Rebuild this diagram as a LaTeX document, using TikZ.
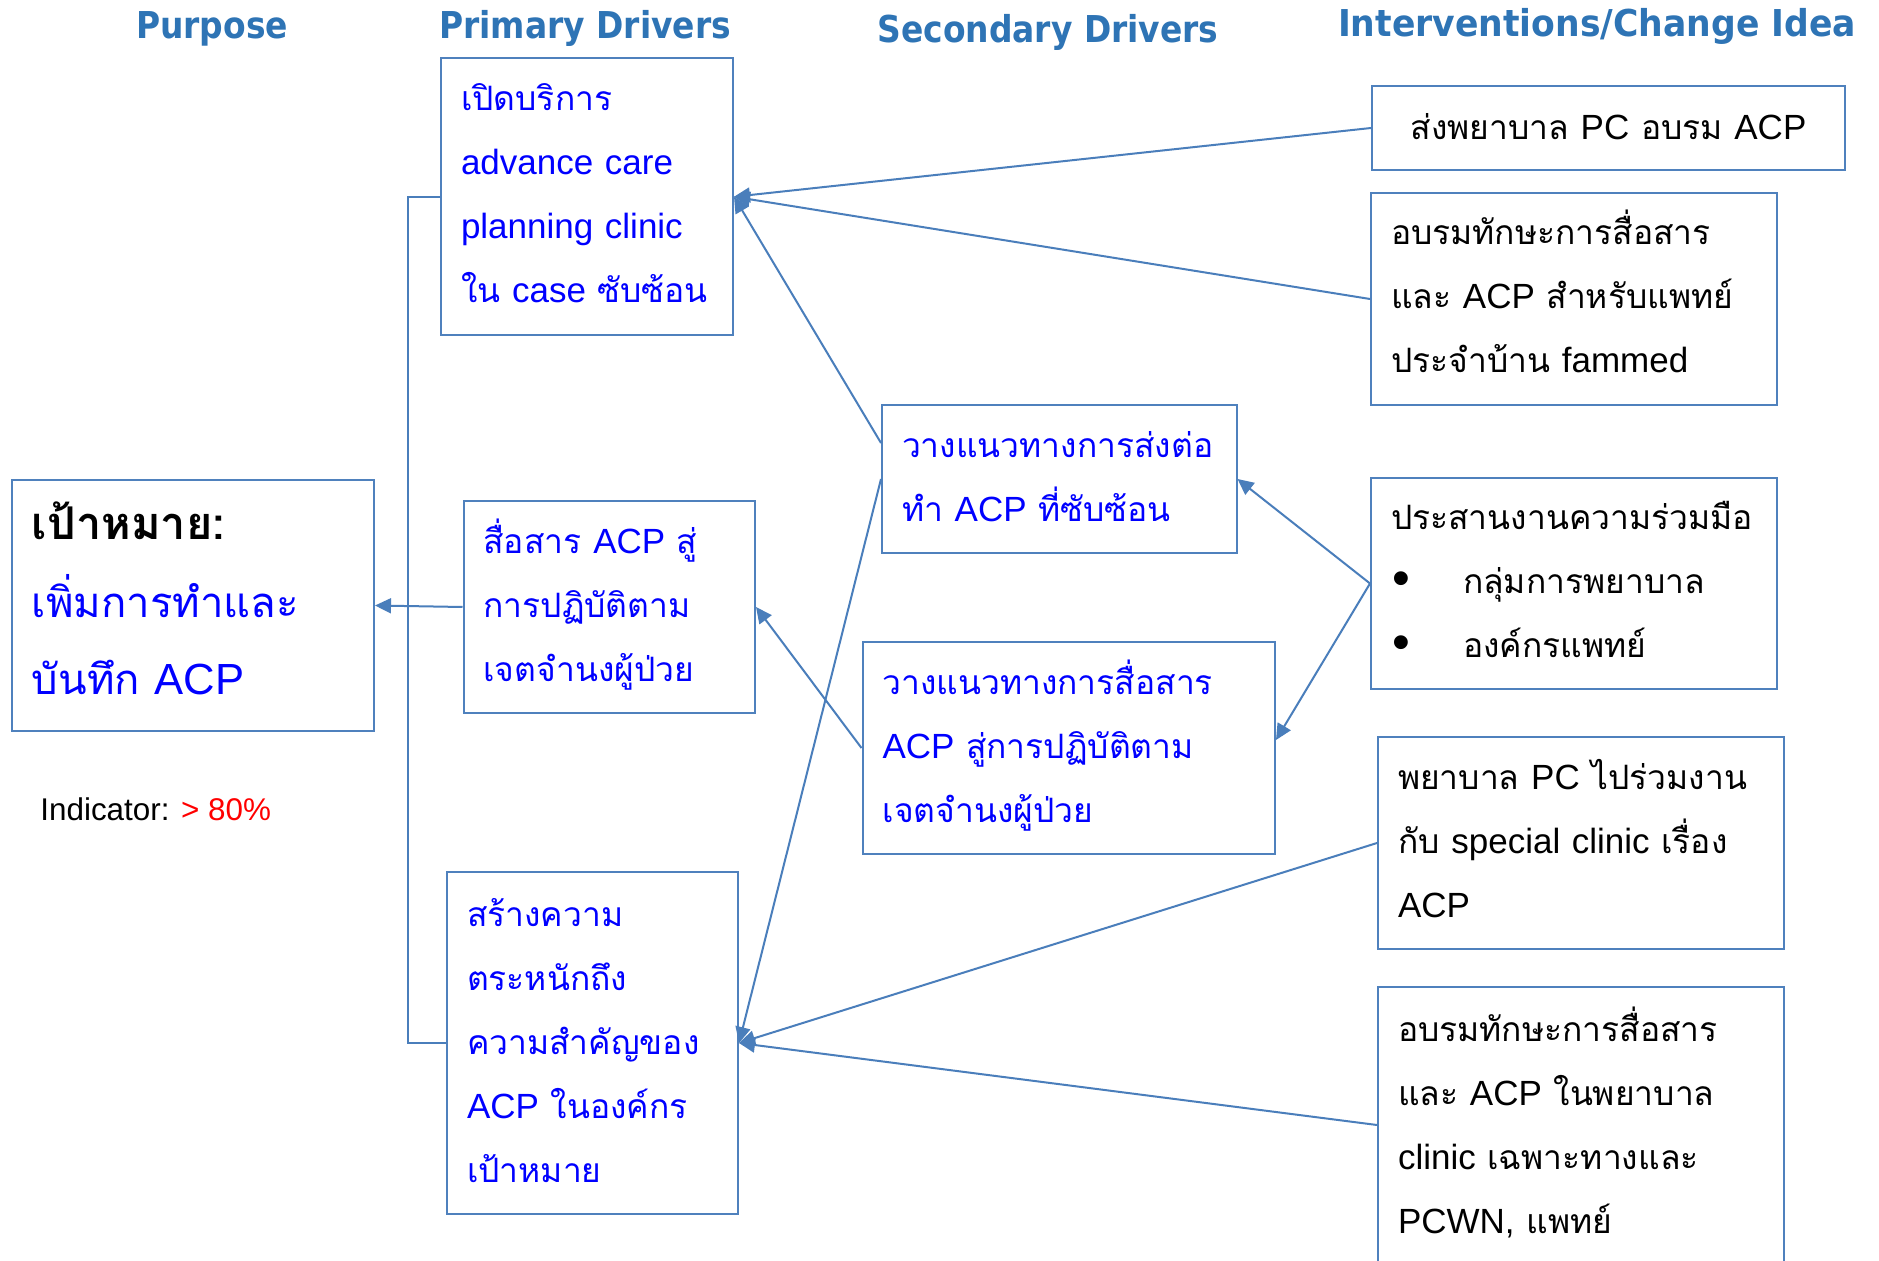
\documentclass[tikz,border=0pt]{standalone}
\usepackage{fontspec}
\setmainfont{Liberation Sans}
\newfontfamily\thaifont[Script=Thai,Scale=0.96]{Loma}
\newfontfamily\hdrfont[FakeStretch=0.89]{DejaVu Sans}
\newfontfamily\hdrfontw[FakeStretch=0.935]{DejaVu Sans}
\usetikzlibrary{arrows.meta}
\newcommand{\tht}[1]{{\thaifont #1}}
\newcommand{\bul}{\makebox[36pt][l]{\hspace{0.5pt}\raisebox{-0.8pt}{\scalebox{1.45}{\textbullet}}}}
\definecolor{hdrblue}{HTML}{2E74B5}
\definecolor{boxblue}{HTML}{4F81BD}
\definecolor{linkblue}{HTML}{4A7EBB}
\definecolor{txtblue}{HTML}{0000FF}
\begin{document}
\begin{tikzpicture}[x=0.5pt,y=-0.5pt,
  hdr/.style={font=\hdrfont\bfseries\fontsize{18.5}{22}\selectfont, text=hdrblue, inner sep=0pt, anchor=base},
  box/.style={draw=boxblue, line width=1pt, anchor=north west, align=left, inner xsep=10pt, inner ysep=0pt, font=\fontsize{17.5}{32}\selectfont},
  btxt/.style={text=txtblue},
  ktxt/.style={text=black},
  conn/.style={draw=linkblue, line width=1pt},
  arr/.style={conn, -{Triangle[length=8pt,width=7.5pt]}}
]
\useasboundingbox[fill=white] (0,0) rectangle (1879,1261);

% headers
\node[hdr] (h1) at (212,39) {Purpose};
\node[hdr] (h2) at (585,39) {Primary Drivers};
\node[hdr] (h3) at (1048,43) {Secondary Drivers};
\node[hdr, font=\hdrfontw\bfseries\fontsize{18.5}{22}\selectfont] (h4) at (1597,37) {Interventions/Change Idea};

% purpose
\node[box, text width=161pt, text height=30pt, text depth=95.5pt, font=\fontsize{21.8}{38.6}\selectfont, text=txtblue] (purpose) at (11,479)
  {\textcolor{black}{\fontsize{23.5}{38.6}\selectfont\bfseries\tht{เป้าหมาย:}}\\ \tht{เพิ่มการทำและ}\\ \tht{บันทึก}~ACP};
\node[anchor=west, inner sep=0pt, font=\fontsize{15.7}{18}\selectfont] (ind) at (40,809)
  {Indicator: \textcolor{red}{> 80\%}};

% primary drivers
\node[box, btxt, text width=126pt, text height=26.25pt, text depth=112pt] (p1) at (440,57.5)
  {\tht{เปิดบริการ}\\ advance~care\\ planning~clinic\\ \tht{ใน}~case~\tht{ซับซ้อน}};
\node[box, btxt, text width=125.75pt, text height=26.2pt, text depth=79.8pt] (p2) at (462.5,500)
  {\tht{สื่อสาร}~ACP~\tht{สู่}\\ \tht{การปฏิบัติตาม}\\ \tht{เจตจำนงผู้ป่วย}};
\node[box, btxt, text width=125.5pt, text height=27pt, text depth=144pt] (p3) at (446,871)
  {\tht{สร้างความ}\\ \tht{ตระหนักถึง}\\ \tht{ความสำคัญของ}\\ ACP~\tht{ในองค์กร}\\ \tht{เป้าหมาย}};

% secondary drivers
\node[box, btxt, text width=157.25pt, text height=26.3pt, text depth=47.7pt] (s1) at (881,404)
  {\tht{วางแนวทางการส่งต่อ}\\ \tht{ทำ}~ACP~\tht{ที่ซับซ้อน}};
\node[box, btxt, text width=186.25pt, text height=26.4pt, text depth=79.6pt] (s2) at (861.5,641)
  {\tht{วางแนวทางการสื่อสาร}\\ ACP~\tht{สู่การปฏิบัติตาม}\\ \tht{เจตจำนงผู้ป่วย}};

% interventions
\node[box, ktxt, align=center, text width=216.5pt, text height=27pt, text depth=15pt] (i1) at (1371,85)
  {\tht{ส่งพยาบาล}~PC~\tht{อบรม}~ACP};
\node[box, ktxt, text width=183pt, text height=25.65pt, text depth=80.35pt] (i2) at (1370,192)
  {\tht{อบรมทักษะการสื่อสาร}\\ \tht{และ}~ACP~\tht{สำหรับแพทย์}\\ \tht{ประจำบ้าน}~fammed};
\node[box, ktxt, text width=183pt, text height=25.75pt, text depth=79.75pt] (i3) at (1370,477)
  {\tht{ประสานงานความร่วมมือ}\\ \bul\tht{กลุ่มการพยาบาล}\\ \bul\tht{องค์กรแพทย์}};
\node[box, ktxt, text width=183pt, text height=26.25pt, text depth=79.75pt] (i4) at (1377,736)
  {\tht{พยาบาล}~PC~\tht{ไปร่วมงาน}\\ \tht{กับ}~special~clinic~\tht{เรื่อง}\\ ACP};
\node[box, ktxt, text width=183pt, text height=27pt, text depth=111pt] (i5) at (1377,986)
  {\tht{อบรมทักษะการสื่อสาร}\\ \tht{และ}~ACP~\tht{ในพยาบาล}\\ clinic~\tht{เฉพาะทางและ}\\ PCWN,~\tht{แพทย์}};

% connectors
\draw[conn] (p1.west) -- ++(-32.5,0) |- (p3.west);
\draw[arr] (p2.west) -- (purpose.east);
\coordinate (s1a) at ([yshift=-19.5pt]s1.north west);
\draw[arr] (i1.west) -- (p1.east);
\draw[arr] (i2.west) -- (p1.east);
\draw[arr] (s1a) -- (p1.east);
\draw[arr] (s1.west) -- (p3.east);
\draw[arr] (i3.west) -- (s1.east);
\draw[arr] (i3.west) -- ([yshift=4pt]s2.east);
\draw[arr] (s2.west) -- (p2.east);
\draw[arr] (i4.west) -- (p3.east);
\draw[arr] (i5.west) -- (p3.east);
\end{tikzpicture}
\end{document}
